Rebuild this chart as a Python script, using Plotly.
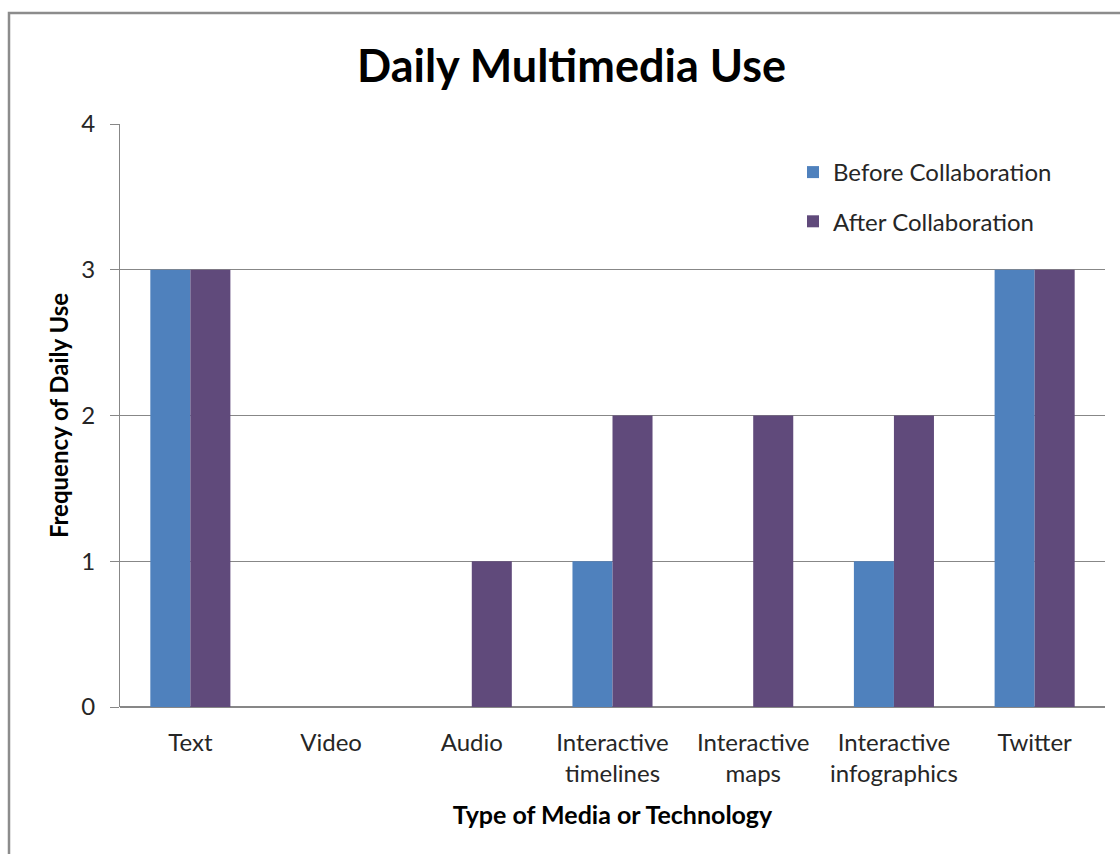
import plotly.graph_objects as go

# Media categories and daily-use frequencies
categories = ["Text", "Video", "Audio", "Interactive<br>timelines",
              "Interactive<br>maps", "Interactive<br>infographics", "Twitter"]
before_collab = [3, 0, 0, 1, 0, 1, 3]
after_collab = [3, 0, 1, 2, 2, 2, 3]
y_ticks = [0, 1, 2, 3, 4]

BLUE = "#4F81BD"
PURPLE = "#604A7B"
GRID = "#878787"
FONT = "Lato"

W, H = 1120, 854
ML, MR, MT, MB = 120, 15, 124, 147
PW, PH = W - ML - MR, H - MT - MB


def px_to_paper_x(px):
    return (px - ML) / PW


def px_to_paper_y(py):
    return (H - MB - py) / PH


fig = go.Figure()
fig.add_trace(go.Bar(
    x=categories, y=before_collab, name="Before Collaboration",
    marker=dict(color=BLUE, line=dict(width=0)), legendgroup="a",
))
fig.add_trace(go.Bar(
    x=categories, y=after_collab, name="After Collaboration",
    marker=dict(color=PURPLE, line=dict(width=0)), legendgroup="b",
))

fig.update_layout(
    width=W, height=H,
    margin=dict(l=ML, r=MR, t=MT, b=MB),
    paper_bgcolor="white", plot_bgcolor="white",
    barmode="group", bargap=0.431, bargroupgap=0,
    font=dict(family=FONT, color="#262626"),
    showlegend=True,
    legend=dict(
        x=px_to_paper_x(793), y=px_to_paper_y(150), xanchor="left", yanchor="top",
        font=dict(family=FONT, size=24, color="#262626"),
        tracegroupgap=15, bgcolor="rgba(0,0,0,0)", itemwidth=30,
    ),
    xaxis=dict(
        showgrid=False, showline=False, ticks="",
        tickfont=dict(family=FONT, size=24, color="#262626"),
        ticklabelstandoff=19,
        title=dict(text="<b>Type of Media or Technology</b>",
                   font=dict(family=FONT, size=25, color="black"), standoff=20),
    ),
    yaxis=dict(
        range=[0, 4], tickvals=y_ticks, showgrid=True, gridcolor=GRID, gridwidth=1,
        showline=True, linecolor=GRID, linewidth=1,
        ticks="outside", ticklen=9, tickcolor=GRID,
        zeroline=True, zerolinecolor=GRID, zerolinewidth=1.5,
        tickfont=dict(family=FONT, size=24, color="#262626"),
        ticklabelstandoff=10,
        title=dict(text="<b>Frequency of Daily Use</b>",
                   font=dict(family=FONT, size=24, color="black"), standoff=5),
    ),
    annotations=[dict(
        text="<b>Daily Multimedia Use</b>", xref="paper", yref="paper",
        x=px_to_paper_x(571), y=px_to_paper_y(65), xanchor="center", yanchor="middle",
        showarrow=False, font=dict(family=FONT, size=45, color="black"),
    )],
    shapes=[dict(
        type="rect", xref="paper", yref="paper",
        x0=px_to_paper_x(9), x1=px_to_paper_x(1160),
        y0=px_to_paper_y(900), y1=px_to_paper_y(13),
        line=dict(color="#8C8C8C", width=2.5), fillcolor="rgba(0,0,0,0)", layer="below",
    )],
)

fig.write_html("out.html")
